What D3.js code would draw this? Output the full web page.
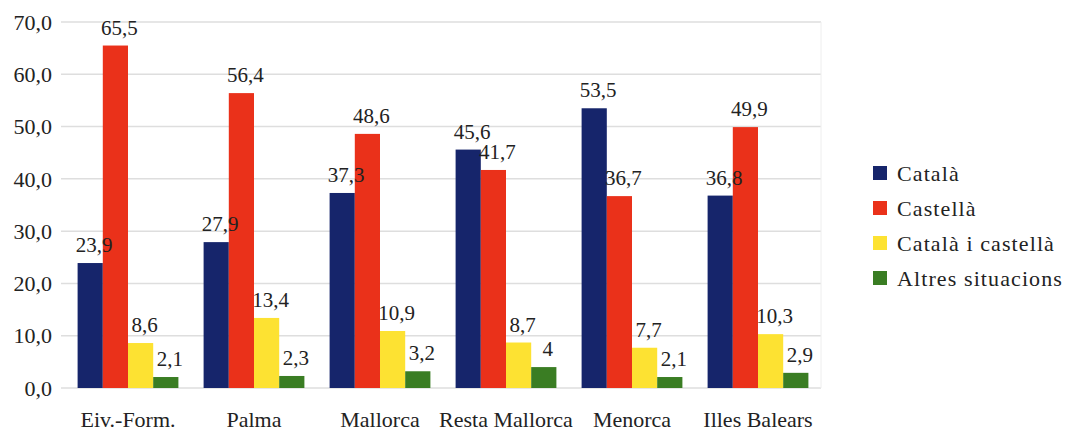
<!DOCTYPE html>
<html>
<head>
<meta charset="utf-8">
<script src="https://cdn.jsdelivr.net/npm/d3@7"></script>
<style>
  body { margin: 0; background: #fff; }
</style>
</head>
<body>
<div id="chart"></div>
<script>
const categories = ['Eiv.-Form.', 'Palma', 'Mallorca', 'Resta Mallorca', 'Menorca', 'Illes Balears'];
const seriesNames = ['Català', 'Castellà', 'Català i castellà', 'Altres situacions'];
const catala = [23.9, 27.9, 37.3, 45.6, 53.5, 36.8];
const castella = [65.5, 56.4, 48.6, 41.7, 36.7, 49.9];
const catalaCastella = [8.6, 13.4, 10.9, 8.7, 7.7, 10.3];
const altres = [2.1, 2.3, 3.2, 4, 2.1, 2.9];
const yTicks = [0, 10, 20, 30, 40, 50, 60, 70];
const colors = ['#16256b', '#ea311a', '#fde232', '#3a7d23'];

const width = 1079;
const height = 437;
const serif = '"Liberation Serif"';

const series = [catala, castella, catalaCastella, altres];

let svg = d3.select('#chart').append('svg')
  .attr('width', width)
  .attr('height', height);

let x0 = d3.scaleBand()
  .domain(categories)
  .range([65, 821])
  .paddingInner(0.2)
  .paddingOuter(0.1);

let x1 = d3.scaleBand()
  .domain(d3.range(seriesNames.length))
  .range([0, x0.bandwidth()]);

let y = d3.scaleLinear()
  .domain([0, 70])
  .range([388, 22]);

// grid
svg.append('g').selectAll('line').data(yTicks)
  .enter().append('line')
    .attr('x1', 61)
    .attr('x2', 821)
    .attr('y1', d => y(d))
    .attr('y2', d => y(d))
    .attr('stroke', '#dedede')
    .attr('stroke-width', 1.5);

svg.append('line')
  .attr('x1', 821).attr('x2', 821)
  .attr('y1', y(70)).attr('y2', y(0))
  .attr('stroke', '#eeeeee');

// y labels
svg.append('g').selectAll('text').data(yTicks)
  .enter().append('text')
    .attr('x', 52)
    .attr('y', d => y(d))
    .attr('dy', '0.35em')
    .attr('text-anchor', 'end')
    .attr('fill', '#222')
    .style('font-family', serif)
    .style('font-size', '22px')
    .text(d => d3.format('.1f')(d).replace('.', ','));

// flat list of bars
let cells = [];
categories.forEach((c, i) => {
  series.forEach((s, k) => cells.push({c: c, k: k, v: s[i]}));
});

let barX = d => x0(d.c) + x1(d.k);

svg.append('g').selectAll('rect').data(cells)
  .enter().append('rect')
    .attr('x', barX)
    .attr('y', d => y(d.v))
    .attr('width', x1.bandwidth())
    .attr('height', d => y(0) - y(d.v))
    .attr('fill', d => colors[d.k]);

svg.append('g').selectAll('text').data(cells)
  .enter().append('text')
    .attr('x', d => barX(d) + x1.bandwidth() / 2 + 4)
    .attr('y', d => y(d.v) - 11)
    .attr('text-anchor', 'middle')
    .attr('fill', '#222')
    .style('font-family', serif)
    .style('font-size', '21px')
    .text(d => String(d.v).replace('.', ','));

// category labels
svg.append('g').selectAll('text').data(categories)
  .enter().append('text')
    .attr('x', d => x0(d) + x0.bandwidth() / 2)
    .attr('y', 427)
    .attr('text-anchor', 'middle')
    .attr('fill', '#222')
    .style('font-family', serif)
    .style('font-size', '22px')
    .text(d => d);

// legend
let legend = svg.append('g').selectAll('g').data(seriesNames)
  .enter().append('g')
    .attr('transform', (d, i) => `translate(873,${173 + i * 35})`);

legend.append('rect')
  .attr('x', 0)
  .attr('y', -7)
  .attr('width', 14)
  .attr('height', 14)
  .attr('fill', (d, i) => colors[i]);

legend.append('text')
  .attr('x', 24)
  .attr('dy', '0.35em')
  .attr('fill', '#222')
  .style('font-family', serif)
  .style('font-size', '22px')
  .style('letter-spacing', '1.1px')
  .text(d => d);
</script>
</body>
</html>
